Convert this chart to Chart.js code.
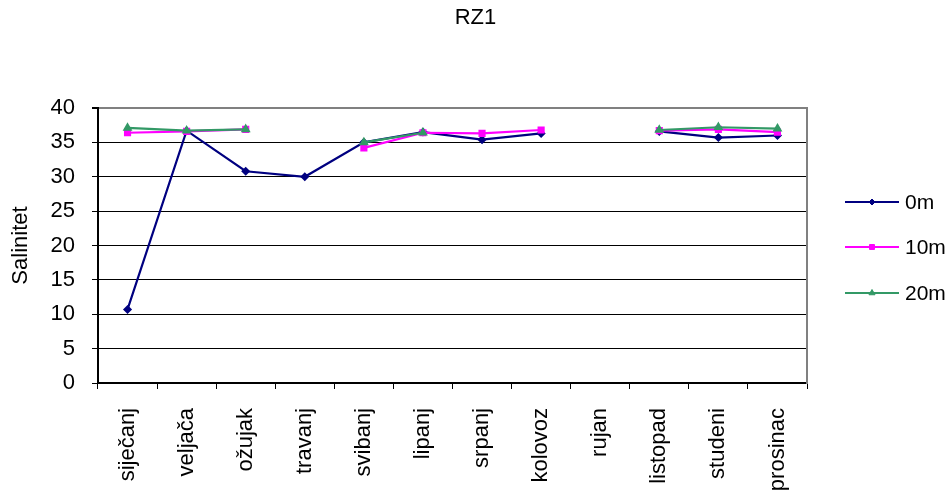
<!DOCTYPE html>
<html>
<head>
<meta charset="utf-8">
<script src="https://cdn.jsdelivr.net/npm/chart.js@4/dist/chart.umd.min.js"></script>
<style>
html,body{margin:0;padding:0;background:#fff;}
#wrap{width:951px;height:497px;}
</style>
</head>
<body>
<div id="wrap"><canvas id="c" width="951" height="497"></canvas></div>
<script>
const months = ['siječanj','veljača','ožujak','travanj','svibanj','lipanj','srpanj','kolovoz','rujan','listopad','studeni','prosinac'];
const s0m  = [10.7, 36.7, 30.8, 30.0, 35.0, 36.5, 35.4, 36.3, null, 36.6, 35.7, 36.0];
const s10m = [36.4, 36.6, 36.9, null, 34.2, 36.4, 36.3, 36.8, null, 36.7, 36.9, 36.5];
const s20m = [37.1, 36.7, 36.9, null, 35.0, 36.4, null, null, null, 36.8, 37.2, 37.0];
const seriesNames = ['0m','10m','20m'];
const yTicks = [0,5,10,15,20,25,30,35,40];

const FONT = "'Liberation Sans', Arial, sans-serif";

const legendPlugin = {
  id: 'sideLegend',
  afterDraw(chart) {
    const ctx = chart.ctx;
    const ca = chart.chartArea;
    const rows = [202, 247, 293];
    chart.data.datasets.forEach((ds, i) => {
      const y = rows[i];
      const x0 = ca.right + 38, x1 = ca.right + 92, xm = (x0 + x1) / 2;
      ctx.save();
      ctx.strokeStyle = ds.borderColor;
      ctx.fillStyle = ds.borderColor;
      ctx.lineWidth = 2.2;
      ctx.beginPath(); ctx.moveTo(x0, y); ctx.lineTo(x1, y); ctx.stroke();
      ctx.lineWidth = 1;
      Chart.helpers.drawPoint(ctx, {pointStyle: ds.pointStyle, radius: ds.pointRadius, borderWidth: 1}, xm, y);
      ctx.restore();
      ctx.save();
      ctx.font = '21px ' + FONT;
      ctx.fillStyle = '#000';
      ctx.textBaseline = 'middle';
      ctx.textAlign = 'left';
      ctx.fillText(ds.label, ca.right + 98, y + 1);
      ctx.restore();
    });
  }
};

const mk = (label, data, color, style, r, order) => ({
  label, data, borderColor: color, backgroundColor: color,
  pointBackgroundColor: color, pointBorderColor: color,
  pointStyle: style, pointRadius: r, pointHoverRadius: r,
  borderWidth: 2.2, tension: 0, spanGaps: false, order
});

new Chart(document.getElementById('c'), {
  type: 'line',
  data: {
    labels: months,
    datasets: [
      mk(seriesNames[0], s0m, '#000080', 'rectRot', 3, 3),
      mk(seriesNames[1], s10m, '#FF00FF', 'rect', 3.5, 2),
      mk(seriesNames[2], s20m, '#339966', 'triangle', 3.5, 1)
    ]
  },
  options: {
    responsive: false,
    animation: false,
    devicePixelRatio: 1,
    layout: {padding: 0},
    plugins: {
      legend: {display: false},
      tooltip: {enabled: false},
      title: {
        display: true, text: 'RZ1', color: '#000',
        font: {family: FONT, size: 22, weight: 'normal', lineHeight: 1.2},
        padding: {top: 5, bottom: 76.6}
      }
    },
    scales: {
      x: {
        type: 'category',
        offset: true,
        grid: {display: true, drawOnChartArea: false, drawTicks: true, tickLength: 6, tickColor: '#000', offset: true, color: '#000'},
        border: {display: true, color: '#000', width: 2},
        ticks: {color: '#000', font: {family: FONT, size: 22}, minRotation: 90, maxRotation: 90, padding: 19, autoSkip: false},
        afterFit: s => { s.height = 114; }
      },
      y: {
        min: 0, max: 40,
        afterBuildTicks: s => { s.ticks = yTicks.map(v => ({value: v})); },
        grid: {
          color: c => c.tick && c.tick.value === 40 ? '#808080' : '#000',
          lineWidth: c => c.tick && c.tick.value === 40 ? 2 : 1,
          tickColor: '#000', tickLength: 6, drawTicks: true
        },
        border: {display: true, color: '#000', width: 2},
        ticks: {color: '#000', font: {family: FONT, size: 22}, padding: 17},
        title: {display: true, text: 'Salinitet', color: '#000', font: {family: FONT, size: 22}, padding: {top: 8, bottom: 0}},
        afterFit: s => { s.width = 98; }
      },
      y2: {
        position: 'right',
        display: true,
        grid: {display: false},
        ticks: {display: false},
        border: {display: true, color: '#808080', width: 2},
        afterFit: s => { s.width = 144; }
      }
    }
  },
  plugins: [legendPlugin]
});
</script>
</body>
</html>
